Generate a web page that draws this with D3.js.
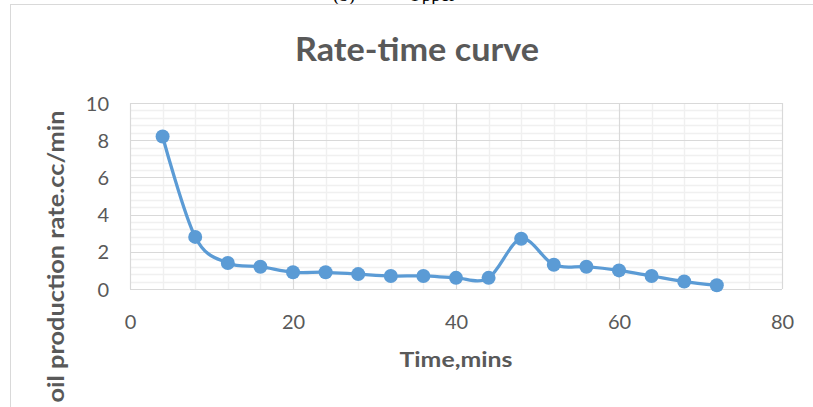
<!DOCTYPE html>
<html>
<head>
<meta charset="utf-8">
<script src="https://cdn.jsdelivr.net/npm/d3@7"></script>
<style>
  html, body { margin: 0; padding: 0; background: #fff; overflow: hidden; }
  svg { display: block; }
</style>
</head>
<body>
<svg id="chart" width="813" height="407"></svg>
<script>
// Sampling times (minutes) and measured oil production rate (cc/min)
const timeMins = [4, 8, 12, 16, 20, 24, 28, 32, 36, 40, 44, 48, 52, 56, 60, 64, 68, 72];
const oilRate  = [8.2, 2.8, 1.4, 1.2, 0.9, 0.9, 0.8, 0.7, 0.7, 0.6, 0.6, 2.7, 1.3, 1.2, 1.0, 0.7, 0.4, 0.2];

const xTicks = [0, 20, 40, 60, 80];
const yTicks = [0, 2, 4, 6, 8, 10];
const xMinorStep = 4;
const yMinorStep = 0.4;

const titleText = "Rate-time curve";
const xTitle = "Time,mins";
const yTitle = "oil production rate.cc/min";

const svg = d3.select("#chart");
const font = "Lato, 'Open Sans', 'DejaVu Sans', sans-serif";
const plot = { left: 130, right: 782, top: 103, bottom: 289 };

const x = d3.scaleLinear().domain([0, 80]).range([plot.left, plot.right]);
const y = d3.scaleLinear().domain([0, 10]).range([plot.bottom, plot.top]);

// Caption of the figure above the chart frame (mostly clipped by the page top)
svg.append("text")
  .attr("x", 333).attr("y", 0.5)
  .attr("font-family", "'Liberation Serif', 'Times New Roman', serif")
  .attr("font-size", 19).attr("fill", "#000")
  .text("(b)");
svg.append("text")
  .attr("x", 408).attr("y", 0.5)
  .attr("font-family", "'Liberation Serif', 'Times New Roman', serif")
  .attr("font-size", 19).attr("fill", "#000")
  .text("Upper");

// Chart frame
svg.append("rect")
  .attr("x", 10.5).attr("y", 4.5)
  .attr("width", 1000).attr("height", 1000)
  .attr("fill", "none").attr("stroke", "#d9d9d9").attr("stroke-width", 1);

// Minor gridlines
const xMinor = d3.range(0, 80 + 1e-9, xMinorStep).filter(v => v % 20 !== 0);
const yMinor = d3.range(0, 10 + 1e-9, yMinorStep).map(v => +v.toFixed(2)).filter(v => Math.abs(v / 2 - Math.round(v / 2)) > 1e-6);

const grid = svg.append("g");
grid.selectAll("line.xminor").data(xMinor).join("line")
  .attr("x1", d => Math.round(x(d)) + 0.5).attr("x2", d => Math.round(x(d)) + 0.5)
  .attr("y1", plot.top).attr("y2", plot.bottom)
  .attr("stroke", "#f0f0f0").attr("stroke-width", 1.5);
grid.selectAll("line.yminor").data(yMinor).join("line")
  .attr("y1", d => Math.round(y(d)) + 0.5).attr("y2", d => Math.round(y(d)) + 0.5)
  .attr("x1", plot.left).attr("x2", plot.right)
  .attr("stroke", "#f0f0f0").attr("stroke-width", 1.5);

// Major gridlines
grid.selectAll("line.xmajor").data(xTicks).join("line")
  .attr("x1", d => Math.round(x(d)) + 0.5).attr("x2", d => Math.round(x(d)) + 0.5)
  .attr("y1", plot.top).attr("y2", plot.bottom)
  .attr("stroke", "#d9d9d9").attr("stroke-width", 1.2);
grid.selectAll("line.ymajor").data(yTicks).join("line")
  .attr("y1", d => Math.round(y(d)) + 0.5).attr("y2", d => Math.round(y(d)) + 0.5)
  .attr("x1", plot.left).attr("x2", plot.right)
  .attr("stroke", "#d9d9d9").attr("stroke-width", 1.2);

// Axes (labels only; lines come from the grid)
const xAxis = svg.append("g")
  .attr("transform", `translate(0,${plot.bottom})`)
  .call(d3.axisBottom(x).tickValues(xTicks).tickSize(0).tickPadding(0));
xAxis.select(".domain").remove();
xAxis.selectAll("text")
  .attr("dy", null).attr("y", 40)
  .attr("font-family", font).attr("font-size", 20).attr("fill", "#595959");

const yAxis = svg.append("g")
  .attr("transform", `translate(${plot.left},0)`)
  .call(d3.axisLeft(y).tickValues(yTicks).tickSize(0).tickPadding(0));
yAxis.select(".domain").remove();
yAxis.selectAll("text")
  .attr("x", -21).attr("dy", "0.35em")
  .attr("font-family", font).attr("font-size", 20).attr("fill", "#595959");

// Data line (smoothed) and markers
const pts = timeMins.map((t, i) => [t, oilRate[i]]);
const line = d3.line()
  .x(d => x(d[0])).y(d => y(d[1]))
  .curve(d3.curveCardinal.tension(0));

svg.append("path")
  .datum(pts)
  .attr("d", line)
  .attr("fill", "none")
  .attr("stroke", "#5b9bd5")
  .attr("stroke-width", 3.25)
  .attr("stroke-linejoin", "round")
  .attr("stroke-linecap", "round");

svg.append("g").selectAll("circle").data(pts).join("circle")
  .attr("cx", d => x(d[0])).attr("cy", d => y(d[1]))
  .attr("r", 7)
  .attr("fill", "#5b9bd5");

// Titles
svg.append("text")
  .attr("x", 417).attr("y", 61)
  .attr("text-anchor", "middle")
  .attr("font-family", font).attr("font-weight", 700)
  .attr("font-size", 33).attr("fill", "#595959")
  .attr("textLength", 244).attr("lengthAdjust", "spacingAndGlyphs")
  .text(titleText);

svg.append("text")
  .attr("x", (plot.left + plot.right) / 2).attr("y", 367)
  .attr("text-anchor", "middle")
  .attr("font-family", font).attr("font-weight", 700)
  .attr("font-size", 21).attr("fill", "#595959")
  .attr("textLength", 113).attr("lengthAdjust", "spacingAndGlyphs")
  .text(xTitle);

svg.append("text")
  .attr("transform", "translate(64,256.5) rotate(-90)")
  .attr("text-anchor", "middle")
  .attr("font-family", font).attr("font-weight", 700)
  .attr("font-size", 22).attr("fill", "#595959")
  .attr("textLength", 292).attr("lengthAdjust", "spacingAndGlyphs")
  .text(yTitle);
</script>
</body>
</html>
